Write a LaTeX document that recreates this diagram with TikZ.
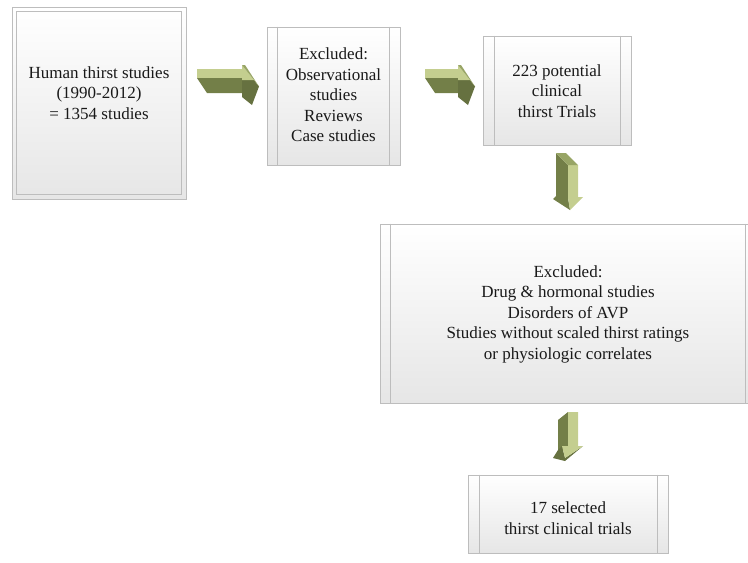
\documentclass[tikz,border=0pt]{standalone}
\usepackage{fontspec}
\setmainfont{Liberation Serif}
\definecolor{boxline}{HTML}{BDBDBD}
\definecolor{boxbot}{HTML}{E6E6E6}
\definecolor{arlight}{HTML}{C4CE8F}
\definecolor{armid}{HTML}{98A566}
\definecolor{ardark}{HTML}{737F48}
\definecolor{ardarker}{HTML}{667140}
\tikzset{
  flowbox/.style={draw=boxline, line width=0.9pt, top color=white, bottom color=boxbot, inner sep=0pt},
  innerline/.style={draw=boxline, line width=0.9pt},
  boxtext/.style={align=center, font=\fontsize{17}{20.5}\selectfont, text=black!90, inner sep=0pt}
}
\newcommand\myrarrow[2]{%
  \fill[ardark] (#1,78) -- (#2,78) -- (#2,93) -- ({#1+10},93) -- cycle;
  \fill[arlight] (#1,69) -- (#2,69) -- (#2,78) -- (#1,78) -- cycle;
  \fill[ardarker] (#2,80) -- ({#2+12},80) -- ({#2+17},86.5) -- ({#2+10},105) -- (#2,97) -- cycle;
  \fill[arlight] (#2,65) -- ({#2+12},80) -- (#2,80) -- cycle;
  \fill[armid] (#2,65) -- ({#2+3},65) -- ({#2+17},86.5) -- ({#2+12},80) -- cycle;
}
\begin{document}
\begin{tikzpicture}[x=1pt,y=-1pt]
\useasboundingbox (0,0) rectangle (748,563);
\clip (0,0) rectangle (748,563);

% Box 1
\node[flowbox, minimum width=174pt, minimum height=192pt] (b1) at (99,103) {};
\draw[innerline] ([shift={(5pt,5pt)}]b1.south west) rectangle ([shift={(-5pt,-5pt)}]b1.north east);
\node[boxtext] (t1) at (99,93) {Human thirst studies\\(1990-2012)\\= 1354 studies};

% Box 2
\node[flowbox, minimum width=133pt, minimum height=138pt] (b2) at (333.5,96) {};
\draw[innerline] ([xshift=11pt]b2.north west) -- ([xshift=11pt]b2.south west);
\draw[innerline] ([xshift=-11pt]b2.north east) -- ([xshift=-11pt]b2.south east);
\node[boxtext] (t2) at (333.5,95) {Excluded:\\Observational\\studies\\Reviews\\Case studies};

% Box 3
\node[flowbox, minimum width=148pt, minimum height=109pt] (b3) at (557,90.5) {};
\draw[innerline] ([xshift=12pt]b3.north west) -- ([xshift=12pt]b3.south west);
\draw[innerline] ([xshift=-11pt]b3.north east) -- ([xshift=-11pt]b3.south east);
\node[boxtext] (t3) at (557,91) {223 potential\\clinical\\thirst Trials};

% Box 4
\node[flowbox, minimum width=376pt, minimum height=179pt] (b4) at (568,313.5) {};
\draw[innerline] ([xshift=11pt]b4.north west) -- ([xshift=11pt]b4.south west);
\draw[innerline] ([xshift=-11pt]b4.north east) -- ([xshift=-11pt]b4.south east);
\node[boxtext] (t4) at (568,314) {Excluded:\\Drug \& hormonal studies\\Disorders of AVP\\Studies without scaled thirst ratings\\or physiologic correlates};

% Box 5
\node[flowbox, minimum width=200pt, minimum height=78pt] (b5) at (568,514) {};
\draw[innerline] ([xshift=12pt]b5.north west) -- ([xshift=12pt]b5.south west);
\draw[innerline] ([xshift=-11pt]b5.north east) -- ([xshift=-11pt]b5.south east);
\node[boxtext] (t5) at (568,518) {17 selected\\thirst clinical trials};

% Right arrows
\myrarrow{197}{242}
\myrarrow{425}{458}

% Down arrow 1
\fill[ardark] (556,153) -- (568,165) -- (568,198) -- (570,210) -- (553,199) -- (556,196) -- cycle;
\fill[arlight] (568,165) -- (578,165) -- (578,197) -- (583,197) -- (570,210) -- (568,198) -- cycle;
\fill[armid] (556,153) -- (566,153) -- (578,165) -- (568,165) -- cycle;

% Down arrow 2
\fill[ardark] (558,420) -- (568,412) -- (568,446) -- (558,451) -- cycle;
\fill[ardarker] (553,458) -- (558,450) -- (562,446) -- (565,458) -- (583,446) -- (565,461) -- cycle;
\fill[arlight] (568,412) -- (578,412) -- (578,446) -- (583,446) -- (565,458) -- (562,446) -- (568,446) -- cycle;
\end{tikzpicture}
\end{document}
